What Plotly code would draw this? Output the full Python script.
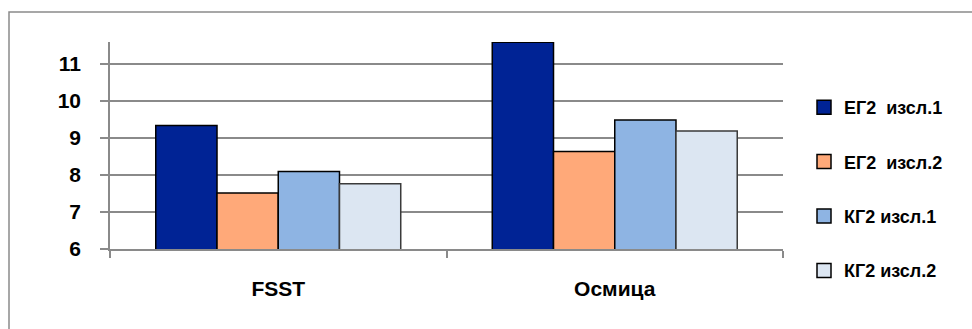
import plotly.graph_objects as go

# Data
categories = ["FSST", "Осмица"]
series_names = ["ЕГ2\u00a0\u00a0изсл.1", "ЕГ2\u00a0\u00a0изсл.2", "КГ2 изсл.1", "КГ2 изсл.2"]
eg2_test1 = [9.33, 11.57]
eg2_test2 = [7.51, 8.63]
kg2_test1 = [8.09, 9.48]
kg2_test2 = [7.76, 9.18]
y_ticks = [6, 7, 8, 9, 10, 11]

series_values = [eg2_test1, eg2_test2, kg2_test1, kg2_test2]
fill_colors = ["#002395", "#FFA979", "#8EB4E3", "#DCE6F2"]
edge_colors = ["#000000", "#000000", "#000000", "#3a3a3a"]

W, H = 972, 329
ML, MR, MT, MB = 110, 189, 42, 80
plot_w = W - ML - MR
plot_h = H - MT - MB

grid_color = "#8a8a8a"
font_family = "Liberation Sans"

fig = go.Figure()

for i, (name, vals) in enumerate(zip(series_names, series_values)):
    fig.add_trace(go.Bar(
        x=categories, y=vals, name=name,
        marker=dict(color=fill_colors[i], line=dict(color=edge_colors[i], width=1.5)),
        showlegend=False,
    ))

# Square legend swatches
for i, name in enumerate(series_names):
    fig.add_trace(go.Scatter(
        x=[None], y=[None], mode="markers", name=f"<b>{name}</b>",
        marker=dict(symbol="square", size=14, color=fill_colors[i],
                    line=dict(color="#000000", width=1.5)),
        legendgroup=f"g{i}",
    ))

def px_x(px):
    return (px - ML) / plot_w

def px_y(py):
    return (H - MB - py) / plot_h

# Outer chart frame
fig.add_shape(type="rect", xref="paper", yref="paper",
              x0=px_x(9), x1=px_x(W + 20), y0=px_y(H + 20), y1=px_y(12),
              line=dict(color="#8a8a8a", width=1.5), fillcolor="rgba(0,0,0,0)",
              layer="below")

fig.update_layout(
    width=W, height=H,
    margin=dict(l=ML, r=MR, t=MT, b=MB, pad=0),
    paper_bgcolor="white", plot_bgcolor="white",
    font=dict(family=font_family, color="#000000"),
    barmode="group", bargap=0.272, bargroupgap=0,
    showlegend=True,
    legend=dict(
        x=px_x(804), xanchor="left", y=px_y(89), yanchor="top",
        font=dict(family=font_family, size=18, color="#000000"),
        tracegroupgap=28, traceorder="grouped",
        bgcolor="rgba(0,0,0,0)", borderwidth=0,
    ),
    xaxis=dict(
        type="category", showgrid=False, showline=True, linecolor=grid_color, linewidth=1.5,
        ticks="outside", tickson="boundaries", ticklen=7, tickcolor=grid_color, tickwidth=1.5,
        tickvals=categories, ticktext=[f"<b>{c}</b>" for c in categories],
        tickfont=dict(family=font_family, size=21),
        ticklabelstandoff=20,
    ),
    yaxis=dict(
        range=[6, 11.58], tickvals=y_ticks, ticktext=[f"<b>{t}</b>" for t in y_ticks],
        showgrid=True, gridcolor=grid_color, gridwidth=1.5,
        showline=True, linecolor=grid_color, linewidth=1.5,
        ticks="outside", ticklen=8, tickcolor=grid_color, tickwidth=1.5,
        tickfont=dict(family=font_family, size=21),
        ticklabelstandoff=15, zeroline=False,
    ),
)

fig.write_html("out.html")
